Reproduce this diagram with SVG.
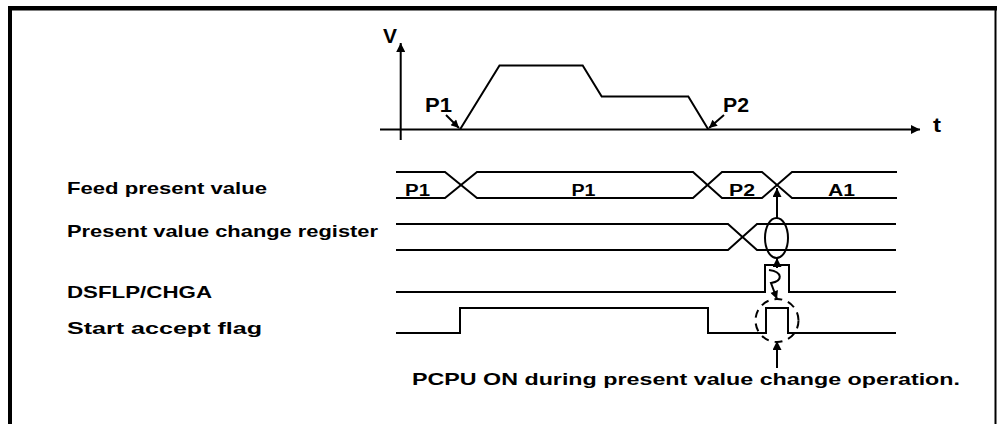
<svg xmlns="http://www.w3.org/2000/svg" width="997" height="424" viewBox="0 0 997 424">
<style>
.ln{fill:none;stroke:#000;stroke-width:2;stroke-linejoin:miter}
.lbl{font-family:"Liberation Sans",Arial,sans-serif;font-weight:bold;font-size:17px;fill:#000}
.bus{font-family:"Liberation Sans",Arial,sans-serif;font-weight:bold;font-size:16px;fill:#000}
.big{font-family:"Liberation Sans",Arial,sans-serif;font-weight:bold;font-size:20px;fill:#000}
</style>
<defs>
<marker id="ah" viewBox="0 0 10 10" refX="10" refY="5" markerWidth="14" markerHeight="9" markerUnits="userSpaceOnUse" orient="auto">
<path d="M0,0 L10,5 L0,10 Z" fill="#000"/>
</marker>
<marker id="ahs" viewBox="0 0 10 10" refX="10" refY="5" markerWidth="11" markerHeight="8" markerUnits="userSpaceOnUse" orient="auto">
<path d="M0,0 L10,5 L0,10 Z" fill="#000"/>
</marker>
</defs>
<rect width="997" height="424" fill="#fff"/>
<g id="frame">
<rect x="8" y="6" width="989" height="4.5" fill="#000"/>
<rect x="8" y="6" width="4" height="418" fill="#000"/>
<rect x="994.5" y="8" width="2" height="416" fill="#000"/>
</g>
<g id="velocity-graph">
<line class="ln" x1="400.7" y1="140" x2="400.7" y2="43" marker-end="url(#ah)"/>
<line class="ln" x1="380" y1="129.5" x2="920" y2="129.5" marker-end="url(#ah)"/>
<polyline class="ln" points="460,129.5 499.5,65.5 582.7,65.5 601.7,96.5 688.3,96.5 708.3,129.5"/>
<text class="big" x="383" y="43" textLength="14" lengthAdjust="spacingAndGlyphs">V</text>
<text class="big" x="933" y="132" textLength="8" lengthAdjust="spacingAndGlyphs">t</text>
<text class="big" x="425" y="111.7" textLength="27" lengthAdjust="spacingAndGlyphs">P1</text>
<text class="big" x="723" y="111.7" textLength="26" lengthAdjust="spacingAndGlyphs">P2</text>
</g>
<g id="labels">
<text class="lbl" x="67" y="194" textLength="200" lengthAdjust="spacingAndGlyphs">Feed present value</text>
<text class="lbl" x="67" y="237" textLength="311" lengthAdjust="spacingAndGlyphs">Present value change register</text>
<text class="lbl" x="67" y="298" textLength="145" lengthAdjust="spacingAndGlyphs">DSFLP/CHGA</text>
<text class="lbl" x="67" y="334" textLength="195" lengthAdjust="spacingAndGlyphs">Start accept flag</text>
</g>
<g id="feed-present-value">
<path class="ln" d="M396,172 H445 L477,198 H693 L722,172 H762 L792,198 H897"/>
<path class="ln" d="M396,198 H445 L477,172 H693 L722,198 H762 L792,172 H897"/>
<text class="bus" x="405" y="195.7" textLength="25" lengthAdjust="spacingAndGlyphs">P1</text>
<text class="bus" x="571.5" y="195.7" textLength="24" lengthAdjust="spacingAndGlyphs">P1</text>
<text class="bus" x="729" y="195.7" textLength="26" lengthAdjust="spacingAndGlyphs">P2</text>
<text class="bus" x="828" y="195.7" textLength="27" lengthAdjust="spacingAndGlyphs">A1</text>
</g>
<g id="present-value-change-register">
<path class="ln" d="M396,224 H728 L757,250 H896"/>
<path class="ln" d="M396,250 H728 L757,224 H896"/>
<ellipse class="ln" cx="776.5" cy="238" rx="11.5" ry="20"/>
</g>
<g id="dsflp-chga">
<path class="ln" d="M396,292 H765 V265 H789 V292 H896"/>
</g>
<g id="start-accept-flag">
<path class="ln" d="M396,333 H460 V308 H708 V333 H766 V308 H788 V333 H896"/>
<circle cx="777" cy="320.5" r="21.5" fill="none" stroke="#000" stroke-width="2" stroke-dasharray="8,6"/>
</g>
<g id="connectors">
<line class="ln" x1="446" y1="115" x2="459" y2="128" marker-end="url(#ahs)"/>
<line class="ln" x1="724" y1="115" x2="709" y2="128" marker-end="url(#ahs)"/>
<line class="ln" x1="777" y1="218" x2="777" y2="188" marker-end="url(#ah)"/>
<line class="ln" x1="777" y1="268" x2="777" y2="258" marker-end="url(#ah)"/>
<path class="ln" d="M769,270 C783,272 783,281 771,283 L777,299" marker-end="url(#ahs)"/>
<line class="ln" x1="777" y1="368" x2="777" y2="341" marker-end="url(#ah)"/>
</g>
<g id="note">
<text class="lbl" x="412" y="385" textLength="548" lengthAdjust="spacingAndGlyphs">PCPU ON during present value change operation.</text>
</g>
</svg>
